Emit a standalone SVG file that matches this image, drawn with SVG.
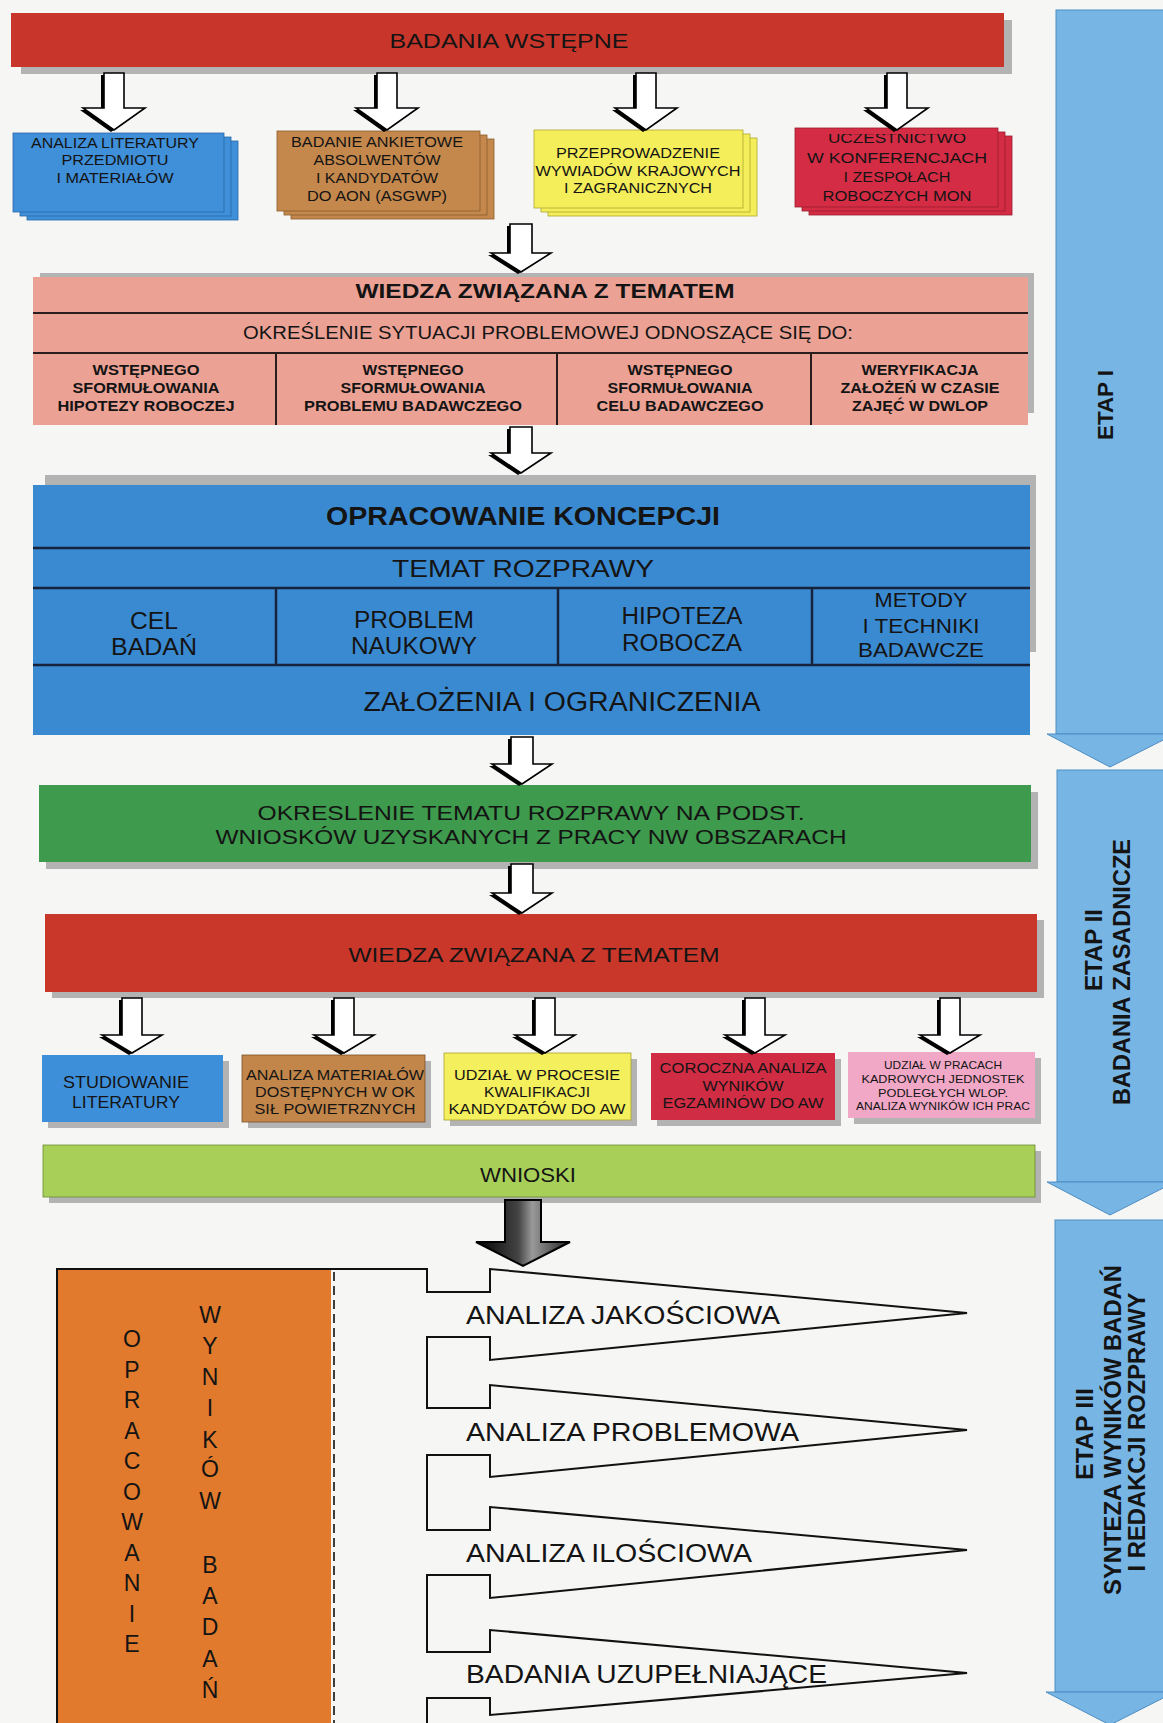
<svg xmlns="http://www.w3.org/2000/svg" xmlns:xlink="http://www.w3.org/1999/xlink" width="1163" height="1723" viewBox="0 0 1163 1723">
<style>
.t{font-family:'Liberation Sans',Arial,Helvetica,sans-serif;fill:#141414;text-anchor:middle}
.b{font-weight:bold}
.sh{fill:#9c9c9c;opacity:.75}
.ln{stroke:#2a1d1d;stroke-width:2;fill:none}
.lnb{stroke:#16233a;stroke-width:2.5;fill:none}
.arr{fill:#fff;stroke:#000;stroke-width:1.6;stroke-linejoin:miter}
.arrs{fill:#000}
.etap{fill:#77b5e5;stroke:#4d8dc2;stroke-width:1}
.card{stroke-width:0.8}
</style>
<defs>
<linearGradient id="dark" x1="0" y1="0" x2="1" y2="0">
<stop offset="0" stop-color="#000"/><stop offset="0.45" stop-color="#444"/><stop offset="0.6" stop-color="#9a9a9a"/><stop offset="1" stop-color="#222"/>
</linearGradient>
<clipPath id="clip4"><rect x="795" y="134" width="203" height="80"/></clipPath>
<path id="a1" d="M104 73 H124 V108 H145 L114 130 L83 108 H104 Z"/>
<path id="a2" d="M377 73 H397 V108 H418 L387 130 L356 108 H377 Z"/>
<path id="a3" d="M636 73 H656 V108 H677 L646 130 L615 108 H636 Z"/>
<path id="a4" d="M887 73 H907 V108 H928 L897 130 L866 108 H887 Z"/>
<path id="a5" d="M510 224 H532 V253 H551 L521 272 L491 253 H510 Z"/>
<path id="a6" d="M510 427 H532 V453 H551 L521 473 L491 453 H510 Z"/>
<path id="a7" d="M511 737 H533 V764 H552 L522 784 L492 764 H511 Z"/>
<path id="a8" d="M511 864 H533 V893 H552 L522 913 L492 893 H511 Z"/>
<path id="r1" d="M122 998 H142 V1035 H162 L132 1053 L102 1035 H122 Z"/>
<path id="r2" d="M334 998 H354 V1035 H374 L344 1053 L314 1035 H334 Z"/>
<path id="r3" d="M535 998 H555 V1035 H575 L545 1053 L515 1035 H535 Z"/>
<path id="r4" d="M745 998 H765 V1035 H785 L755 1053 L725 1035 H745 Z"/>
<path id="r5" d="M940 998 H960 V1035 H980 L950 1053 L920 1035 H940 Z"/>
</defs>
<rect x="0" y="0" width="1163" height="1723" fill="#f6f6f5"/>

<!-- ETAP bars -->
<g id="etap1">
<rect class="etap" x="1056" y="10" width="110" height="724"/>
<polygon class="etap" points="1047,734 1175,734 1110,767"/>
<text class="t b" font-size="22" textLength="70" lengthAdjust="spacingAndGlyphs" transform="translate(1113,405) rotate(-90)">ETAP I</text>
</g>
<g id="etap2">
<rect class="etap" x="1057" y="770" width="110" height="412"/>
<polygon class="etap" points="1047,1182 1175,1182 1110,1215"/>
<text class="t b" font-size="23" textLength="82" lengthAdjust="spacingAndGlyphs" transform="translate(1102,950) rotate(-90)">ETAP II</text>
<text class="t b" font-size="23" textLength="266" lengthAdjust="spacingAndGlyphs" transform="translate(1130,972) rotate(-90)">BADANIA ZASADNICZE</text>
</g>
<g id="etap3">
<rect class="etap" x="1055" y="1220" width="112" height="472"/>
<polygon class="etap" points="1046,1692 1175,1692 1110,1725"/>
<text class="t b" font-size="23" textLength="92" lengthAdjust="spacingAndGlyphs" transform="translate(1093,1434) rotate(-90)">ETAP III</text>
<text class="t b" font-size="23" textLength="330" lengthAdjust="spacingAndGlyphs" transform="translate(1121,1430) rotate(-90)">SYNTEZA WYNIKÓW BADAŃ</text>
<text class="t b" font-size="23" textLength="279" lengthAdjust="spacingAndGlyphs" transform="translate(1145,1432) rotate(-90)">I REDAKCJI ROZPRAWY</text>
</g>

<!-- top bar -->
<g id="badania-wstepne">
<rect class="sh" x="21" y="20" width="991" height="54"/>
<rect x="11" y="13" width="993" height="54" fill="#c8362b"/>
<text class="t" x="509" y="48" font-size="21" textLength="239" lengthAdjust="spacingAndGlyphs">BADANIA WSTĘPNE</text>
</g>

<!-- row 1 boxes -->
<g id="analiza-literatury">
<rect x="27" y="141" width="211" height="79" fill="#3f8fd9" stroke="#2a6aa8" class="card"/>
<rect x="20" y="137" width="211" height="79" fill="#3f8fd9" stroke="#2a6aa8" class="card"/>
<rect x="13" y="133" width="211" height="79" fill="#3f8fd9" stroke="#2a6aa8" class="card"/>
<text class="t" x="115" y="148" font-size="14" textLength="168" lengthAdjust="spacingAndGlyphs">ANALIZA LITERATURY</text>
<text class="t" x="115" y="165" font-size="14" textLength="107" lengthAdjust="spacingAndGlyphs">PRZEDMIOTU</text>
<text class="t" x="115" y="183" font-size="14" textLength="117" lengthAdjust="spacingAndGlyphs">I MATERIAŁÓW</text>
</g>
<g id="badanie-ankietowe">
<rect x="291" y="139" width="203" height="80" fill="#c4884c" stroke="#8a5c2c" class="card"/>
<rect x="284" y="135" width="203" height="80" fill="#c4884c" stroke="#8a5c2c" class="card"/>
<rect x="277" y="131" width="203" height="80" fill="#c4884c" stroke="#8a5c2c" class="card"/>
<text class="t" x="377" y="147" font-size="14" textLength="172" lengthAdjust="spacingAndGlyphs">BADANIE ANKIETOWE</text>
<text class="t" x="377" y="165" font-size="14" textLength="127" lengthAdjust="spacingAndGlyphs">ABSOLWENTÓW</text>
<text class="t" x="377" y="183" font-size="14" textLength="122" lengthAdjust="spacingAndGlyphs">I KANDYDATÓW</text>
<text class="t" x="377" y="201" font-size="14" textLength="140" lengthAdjust="spacingAndGlyphs">DO AON (ASGWP)</text>
</g>
<g id="wywiady">
<rect x="548" y="138" width="209" height="78" fill="#f4ee5a" stroke="#b0a830" class="card"/>
<rect x="541" y="134" width="209" height="78" fill="#f4ee5a" stroke="#b0a830" class="card"/>
<rect x="534" y="130" width="209" height="78" fill="#f4ee5a" stroke="#b0a830" class="card"/>
<text class="t" x="638" y="158" font-size="14" textLength="164" lengthAdjust="spacingAndGlyphs">PRZEPROWADZENIE</text>
<text class="t" x="638" y="176" font-size="14" textLength="205" lengthAdjust="spacingAndGlyphs">WYWIADÓW KRAJOWYCH</text>
<text class="t" x="638" y="193" font-size="14" textLength="148" lengthAdjust="spacingAndGlyphs">I ZAGRANICZNYCH</text>
</g>
<g id="uczestnictwo">
<rect x="809" y="136" width="203" height="79" fill="#d52c45" stroke="#9a1c2c" class="card"/>
<rect x="802" y="132" width="203" height="79" fill="#d52c45" stroke="#9a1c2c" class="card"/>
<rect x="795" y="128" width="203" height="79" fill="#d52c45" stroke="#9a1c2c" class="card"/>
<text class="t" x="897" y="143" font-size="14" textLength="138" lengthAdjust="spacingAndGlyphs" clip-path="url(#clip4)">UCZESTNICTWO</text>
<text class="t" x="897" y="163" font-size="14" textLength="180" lengthAdjust="spacingAndGlyphs">W KONFERENCJACH</text>
<text class="t" x="897" y="182" font-size="14" textLength="107" lengthAdjust="spacingAndGlyphs">I ZESPOŁACH</text>
<text class="t" x="897" y="201" font-size="14" textLength="149" lengthAdjust="spacingAndGlyphs">ROBOCZYCH MON</text>
</g>

<!-- pink section -->
<g id="wiedza-1">
<rect class="sh" x="40" y="273" width="994" height="140"/>
<rect x="33" y="277" width="995" height="148" fill="#eba294"/>
<line class="ln" x1="33" y1="313" x2="1028" y2="313"/>
<line class="ln" x1="33" y1="353" x2="1028" y2="353"/>
<line class="ln" x1="276" y1="353" x2="276" y2="425"/>
<line class="ln" x1="557" y1="353" x2="557" y2="425"/>
<line class="ln" x1="811" y1="353" x2="811" y2="425"/>
<text class="t b" x="545" y="298" font-size="21" textLength="379" lengthAdjust="spacingAndGlyphs">WIEDZA ZWIĄZANA Z TEMATEM</text>
<text class="t" x="548" y="339" font-size="18" textLength="610" lengthAdjust="spacingAndGlyphs">OKREŚLENIE SYTUACJI PROBLEMOWEJ ODNOSZĄCE SIĘ DO:</text>
<text class="t b" x="146" y="375" font-size="14.5" textLength="107" lengthAdjust="spacingAndGlyphs">WSTĘPNEGO</text>
<text class="t b" x="146" y="393" font-size="14.5" textLength="147" lengthAdjust="spacingAndGlyphs">SFORMUŁOWANIA</text>
<text class="t b" x="146" y="411" font-size="14.5" textLength="177" lengthAdjust="spacingAndGlyphs">HIPOTEZY ROBOCZEJ</text>
<text class="t b" x="413" y="375" font-size="14.5" textLength="101" lengthAdjust="spacingAndGlyphs">WSTĘPNEGO</text>
<text class="t b" x="413" y="393" font-size="14.5" textLength="145" lengthAdjust="spacingAndGlyphs">SFORMUŁOWANIA</text>
<text class="t b" x="413" y="411" font-size="14.5" textLength="218" lengthAdjust="spacingAndGlyphs">PROBLEMU BADAWCZEGO</text>
<text class="t b" x="680" y="375" font-size="14.5" textLength="105" lengthAdjust="spacingAndGlyphs">WSTĘPNEGO</text>
<text class="t b" x="680" y="393" font-size="14.5" textLength="145" lengthAdjust="spacingAndGlyphs">SFORMUŁOWANIA</text>
<text class="t b" x="680" y="411" font-size="14.5" textLength="167" lengthAdjust="spacingAndGlyphs">CELU BADAWCZEGO</text>
<text class="t b" x="920" y="375" font-size="14.5" textLength="117" lengthAdjust="spacingAndGlyphs">WERYFIKACJA</text>
<text class="t b" x="920" y="393" font-size="14.5" textLength="159" lengthAdjust="spacingAndGlyphs">ZAŁOŻEŃ W CZASIE</text>
<text class="t b" x="920" y="411" font-size="14.5" textLength="136" lengthAdjust="spacingAndGlyphs">ZAJĘĆ W DWLOP</text>
</g>

<!-- concept box -->
<g id="opracowanie-koncepcji">
<rect class="sh" x="45" y="475" width="991" height="177"/>
<rect x="33" y="485" width="997" height="250" fill="#3a8ad2"/>
<line class="lnb" x1="33" y1="548" x2="1030" y2="548"/>
<line class="lnb" x1="33" y1="588" x2="1030" y2="588"/>
<line class="lnb" x1="33" y1="665" x2="1030" y2="665"/>
<line class="lnb" x1="276" y1="588" x2="276" y2="665"/>
<line class="lnb" x1="558" y1="588" x2="558" y2="665"/>
<line class="lnb" x1="812" y1="588" x2="812" y2="665"/>
<text class="t b" x="523" y="525" font-size="26" textLength="394" lengthAdjust="spacingAndGlyphs">OPRACOWANIE KONCEPCJI</text>
<text class="t" x="523" y="577" font-size="24" textLength="262" lengthAdjust="spacingAndGlyphs">TEMAT ROZPRAWY</text>
<text class="t" x="154" y="629" font-size="23" textLength="48" lengthAdjust="spacingAndGlyphs">CEL</text>
<text class="t" x="154" y="655" font-size="23" textLength="86" lengthAdjust="spacingAndGlyphs">BADAŃ</text>
<text class="t" x="414" y="628" font-size="23" textLength="120" lengthAdjust="spacingAndGlyphs">PROBLEM</text>
<text class="t" x="414" y="654" font-size="23" textLength="126" lengthAdjust="spacingAndGlyphs">NAUKOWY</text>
<text class="t" x="682" y="624" font-size="23" textLength="121" lengthAdjust="spacingAndGlyphs">HIPOTEZA</text>
<text class="t" x="682" y="651" font-size="23" textLength="120" lengthAdjust="spacingAndGlyphs">ROBOCZA</text>
<text class="t" x="921" y="607" font-size="21" textLength="93" lengthAdjust="spacingAndGlyphs">METODY</text>
<text class="t" x="921" y="633" font-size="21" textLength="117" lengthAdjust="spacingAndGlyphs">I TECHNIKI</text>
<text class="t" x="921" y="657" font-size="21" textLength="126" lengthAdjust="spacingAndGlyphs">BADAWCZE</text>
<text class="t" x="562" y="711" font-size="27" textLength="397" lengthAdjust="spacingAndGlyphs">ZAŁOŻENIA I OGRANICZENIA</text>
</g>

<!-- green -->
<g id="okreslenie-tematu">
<rect class="sh" x="46" y="792" width="992" height="77"/>
<rect x="39" y="785" width="992" height="77" fill="#3e9a4c"/>
<text class="t" x="531" y="820" font-size="21" textLength="547" lengthAdjust="spacingAndGlyphs">OKRESLENIE TEMATU ROZPRAWY NA PODST.</text>
<text class="t" x="531" y="844" font-size="21" textLength="631" lengthAdjust="spacingAndGlyphs">WNIOSKÓW UZYSKANYCH Z PRACY NW OBSZARACH</text>
</g>

<!-- red 2 -->
<g id="wiedza-2">
<rect class="sh" x="52" y="920" width="992" height="78"/>
<rect x="45" y="914" width="992" height="78" fill="#c9372b"/>
<text class="t" x="534" y="962" font-size="21" textLength="371" lengthAdjust="spacingAndGlyphs">WIEDZA ZWIĄZANA Z TEMATEM</text>
</g>

<!-- row 2 boxes -->
<g id="studiowanie">
<rect class="sh" x="48" y="1061" width="181" height="67"/>
<rect x="42" y="1055" width="181" height="67" fill="#3e8fda"/>
<text class="t" x="126" y="1088" font-size="16.5" textLength="126" lengthAdjust="spacingAndGlyphs">STUDIOWANIE</text>
<text class="t" x="126" y="1108" font-size="16.5" textLength="108" lengthAdjust="spacingAndGlyphs">LITERATURY</text>
</g>
<g id="analiza-materialow">
<rect class="sh" x="248" y="1061" width="183" height="67"/>
<rect x="242" y="1055" width="183" height="67" fill="#c2864a" stroke="#7a5228" stroke-width="0.8"/>
<text class="t" x="335" y="1080" font-size="15" textLength="178" lengthAdjust="spacingAndGlyphs">ANALIZA MATERIAŁÓW</text>
<text class="t" x="335" y="1097" font-size="15" textLength="160" lengthAdjust="spacingAndGlyphs">DOSTĘPNYCH W OK</text>
<text class="t" x="335" y="1114" font-size="15" textLength="161" lengthAdjust="spacingAndGlyphs">SIŁ POWIETRZNYCH</text>
</g>
<g id="udzial-w-procesie">
<rect class="sh" x="450" y="1059" width="187" height="67"/>
<rect x="444" y="1053" width="187" height="67" fill="#f4ef5c" stroke="#a8a030" stroke-width="0.8"/>
<text class="t" x="537" y="1080" font-size="15" textLength="166" lengthAdjust="spacingAndGlyphs">UDZIAŁ W PROCESIE</text>
<text class="t" x="537" y="1097" font-size="15" textLength="106" lengthAdjust="spacingAndGlyphs">KWALIFIKACJI</text>
<text class="t" x="537" y="1114" font-size="15" textLength="177" lengthAdjust="spacingAndGlyphs">KANDYDATÓW DO AW</text>
</g>
<g id="coroczna-analiza">
<rect class="sh" x="657" y="1059" width="184" height="67"/>
<rect x="651" y="1053" width="184" height="67" fill="#d02c44"/>
<text class="t" x="743" y="1073" font-size="15.5" textLength="167" lengthAdjust="spacingAndGlyphs">COROCZNA  ANALIZA</text>
<text class="t" x="743" y="1091" font-size="15.5" textLength="81" lengthAdjust="spacingAndGlyphs">WYNIKÓW</text>
<text class="t" x="743" y="1108" font-size="15.5" textLength="161" lengthAdjust="spacingAndGlyphs">EGZAMINÓW DO AW</text>
</g>
<g id="udzial-w-pracach">
<rect class="sh" x="854" y="1058" width="187" height="66"/>
<rect x="848" y="1052" width="187" height="66" fill="#f0a8c6"/>
<text class="t" x="943" y="1069" font-size="11.5" textLength="118" lengthAdjust="spacingAndGlyphs">UDZIAŁ W PRACACH</text>
<text class="t" x="943" y="1083" font-size="11.5" textLength="163" lengthAdjust="spacingAndGlyphs">KADROWYCH JEDNOSTEK</text>
<text class="t" x="943" y="1097" font-size="11.5" textLength="130" lengthAdjust="spacingAndGlyphs">PODLEGŁYCH WLOP.</text>
<text class="t" x="943" y="1110" font-size="11.5" textLength="174" lengthAdjust="spacingAndGlyphs">ANALIZA WYNIKÓW ICH PRAC</text>
</g>

<!-- wnioski -->
<g id="wnioski">
<rect class="sh" x="49" y="1151" width="992" height="52"/>
<rect x="43" y="1145" width="992" height="52" fill="#a8d058" stroke="#6a8a30" stroke-width="0.8"/>
<text class="t" x="528" y="1182" font-size="20" textLength="96" lengthAdjust="spacingAndGlyphs">WNIOSKI</text>
</g>

<!-- bottom: opracowanie wyników badań -->
<g id="opracowanie-wynikow">
<rect x="57" y="1269" width="274" height="460" fill="#e27a2d"/>
<line x1="334" y1="1272" x2="334" y2="1723" stroke="#111" stroke-width="1.6" stroke-dasharray="9 5"/>
<text class="t" font-size="23">
<tspan x="132" y="1347">O</tspan><tspan x="132" y="1377.5">P</tspan><tspan x="132" y="1408">R</tspan><tspan x="132" y="1438.5">A</tspan><tspan x="132" y="1469">C</tspan><tspan x="132" y="1499.5">O</tspan><tspan x="132" y="1530">W</tspan><tspan x="132" y="1560.5">A</tspan><tspan x="132" y="1591">N</tspan><tspan x="132" y="1621.5">I</tspan><tspan x="132" y="1652">E</tspan>
</text>
<text class="t" font-size="23">
<tspan x="210" y="1323">W</tspan><tspan x="210" y="1354">Y</tspan><tspan x="210" y="1385">N</tspan><tspan x="210" y="1416">I</tspan><tspan x="210" y="1448">K</tspan><tspan x="210" y="1477">Ó</tspan><tspan x="210" y="1509">W</tspan><tspan x="210" y="1573">B</tspan><tspan x="210" y="1604">A</tspan><tspan x="210" y="1635">D</tspan><tspan x="210" y="1667">A</tspan><tspan x="210" y="1698">Ń</tspan>
</text>
</g>
<g id="analizy">
<path d="M57 1730 V1269 H427 V1292 H490 V1269 L967 1313 L490 1360 V1337 H427 V1408 H490 V1385 L967 1430 L490 1477 V1455 H427 V1530 H490 V1507 L967 1550 L490 1598 V1575 H427 V1652 H490 V1630 L967 1673 L490 1715 V1698 H427 V1730" fill="none" stroke="#111" stroke-width="2"/>
<text x="466" y="1324" font-family="'Liberation Sans',Arial,sans-serif" font-size="25" fill="#141414" textLength="314" lengthAdjust="spacingAndGlyphs">ANALIZA JAKOŚCIOWA</text>
<text x="466" y="1441" font-family="'Liberation Sans',Arial,sans-serif" font-size="25" fill="#141414" textLength="333" lengthAdjust="spacingAndGlyphs">ANALIZA PROBLEMOWA</text>
<text x="466" y="1562" font-family="'Liberation Sans',Arial,sans-serif" font-size="25" fill="#141414" textLength="286" lengthAdjust="spacingAndGlyphs">ANALIZA ILOŚCIOWA</text>
<text x="466" y="1683" font-family="'Liberation Sans',Arial,sans-serif" font-size="25" fill="#141414" textLength="361" lengthAdjust="spacingAndGlyphs">BADANIA UZUPEŁNIAJĄCE</text>
</g>

<!-- connectors -->
<g id="connectors">
<use href="#a1" class="arrs" transform="translate(-3,2)"/><use href="#a1" class="arr"/>
<use href="#a2" class="arrs" transform="translate(-3,2)"/><use href="#a2" class="arr"/>
<use href="#a3" class="arrs" transform="translate(-3,2)"/><use href="#a3" class="arr"/>
<use href="#a4" class="arrs" transform="translate(-3,2)"/><use href="#a4" class="arr"/>
<use href="#a5" class="arrs" transform="translate(-3,2)"/><use href="#a5" class="arr"/>
<use href="#a6" class="arrs" transform="translate(-3,2)"/><use href="#a6" class="arr"/>
<use href="#a7" class="arrs" transform="translate(-3,2)"/><use href="#a7" class="arr"/>
<use href="#a8" class="arrs" transform="translate(-3,2)"/><use href="#a8" class="arr"/>
<use href="#r1" class="arrs" transform="translate(-3,2)"/><use href="#r1" class="arr"/>
<use href="#r2" class="arrs" transform="translate(-3,2)"/><use href="#r2" class="arr"/>
<use href="#r3" class="arrs" transform="translate(-3,2)"/><use href="#r3" class="arr"/>
<use href="#r4" class="arrs" transform="translate(-3,2)"/><use href="#r4" class="arr"/>
<use href="#r5" class="arrs" transform="translate(-3,2)"/><use href="#r5" class="arr"/>
<path d="M505 1200 H541 V1242 H570 L523 1266 L476 1242 H505 Z" fill="url(#dark)" stroke="#000" stroke-width="2"/>
</g>
</svg>
